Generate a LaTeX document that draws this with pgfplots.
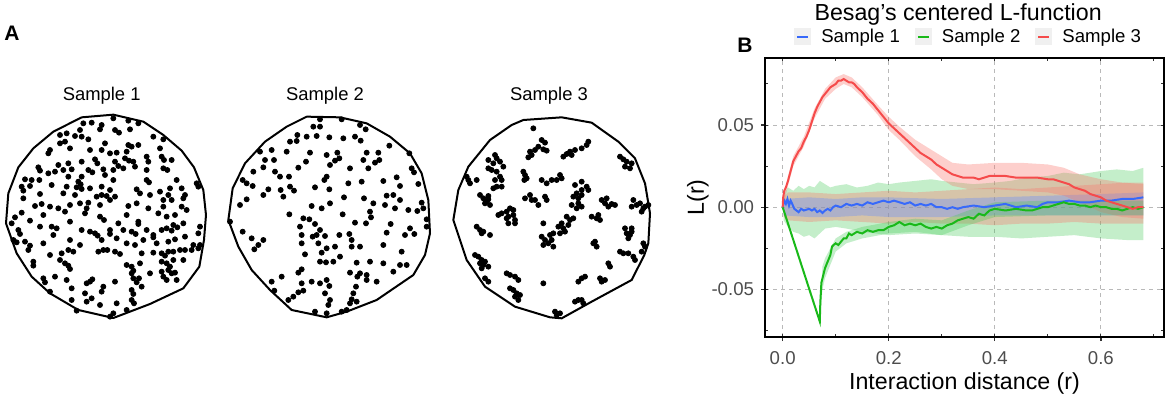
\documentclass[border=0pt]{standalone}
\usepackage{fontspec}
\setmainfont{Liberation Sans}
\usepackage{pgfplots}
\pgfplotsset{compat=1.18}
\definecolor{s1}{RGB}{55,105,250}
\definecolor{s2}{RGB}{25,185,25}
\definecolor{s3}{RGB}{245,75,75}
\definecolor{f1}{RGB}{97,140,255}
\definecolor{f2}{RGB}{60,200,80}
\definecolor{f3}{RGB}{248,118,109}
\definecolor{ticktext}{RGB}{77,77,77}

\pgfplotsset{
  ptpanel/.style={scale only axis, width=110pt, height=125pt,
    xmin=0, xmax=660, ymin=0, ymax=750, y dir=reverse,
    hide axis, clip=false, anchor=north west},
  dots/.style={only marks, mark=*, mark size=1.25pt, black},
  win/.style={black, line width=1pt, no markers},
  band/.style={draw=none, forget plot, fill opacity=#1},
}

\begin{document}
\begin{tikzpicture}

% frame of panel B, drawn first so that no later state can touch it
\draw[black, line width=1.3pt] (382.5pt,-168.5pt) rectangle (582pt,-29pt);

\node[font=\bfseries\fontsize{10.5}{12}\selectfont, inner sep=0pt] at (6pt,-16.5pt) {A};
\node[font=\bfseries\fontsize{10.5}{12}\selectfont, inner sep=0pt] at (372.5pt,-22.5pt) {B};

% ---------- Sample 1 ----------
\begin{axis}[ptpanel, at={(0pt,-40pt)}]
\node[font=\fontsize{9.2}{11}\selectfont] at (axis cs:305,48) {Sample 1};
\addplot[win] coordinates {
(245,112) (340,104) (430,125) (490,165) (545,212) (582,262) (610,330) (618,405)
(612,480) (598,560) (550,625) (450,672) (340,714) (235,690) (150,640) (95,590)
(50,520) (18,430) (25,340) (55,262) (100,205) (160,155) (245,112)};
\addplot[dots] coordinates {
(250,130) (275,128) (305,135) (340,115) (385,122) (415,130)
(240,150) (300,148) (345,150) (357,158) (390,148) (200,160) (180,165)
(225,168) (245,170) (265,178) (195,185) (180,190) (315,190) (385,195) (395,200) (415,195) (460,170) (490,178)
(150,210) (145,220) (210,205) (270,210) (305,210) (330,220) (350,218) (380,215) (375,235) (387,242) (480,205) (485,230) (492,240) (515,240) (440,230) (445,245)
(115,262) (120,272) (175,255) (205,250) (245,245) (285,238) (292,250) (345,245) (355,258) (370,265) (400,245) (405,260) (440,270) (490,265) (502,270)
(145,280) (165,275) (190,270) (215,268) (265,270) (277,277) (310,268) (340,270) (315,285) (205,290) (245,290) (235,305) (242,313) (75,298) (95,300) (118,300) (340,300) (440,300) (447,307) (530,300) (590,310) (595,320)
(65,320) (70,332) (90,318) (155,315) (200,320) (230,322) (245,327) (270,325) (305,320) (330,330) (410,328) (480,335) (510,325) (545,325) (555,345)
(70,355) (120,342) (190,340) (225,345) (290,350) (305,345) (320,348) (345,350) (330,360) (420,340) (450,345) (505,345) (490,360) (515,360) (550,355)
(105,378) (125,372) (150,380) (175,385) (210,375) (240,370) (265,368) (300,375) (260,385) (385,378) (410,370) (445,385) (490,380) (545,380) (560,390)
(45,412) (65,398) (90,422) (130,405) (195,395) (255,400) (300,410) (312,420) (355,430) (380,405) (415,425) (475,400) (500,410) (525,405) (520,435) (532,442) (600,440)
(35,430) (55,450) (60,462) (120,440) (155,440) (170,445) (160,465) (210,425) (245,450) (270,455) (285,460) (293,467) (330,450) (330,462) (370,450) (395,455) (407,462) (415,432) (440,450) (460,465) (485,450) (500,445) (515,452) (550,430) (595,460)
(40,480) (50,487) (75,485) (90,497) (130,490) (210,480) (240,495) (305,480) (350,475) (380,490) (405,495) (430,480) (460,472) (470,490) (505,485) (525,478) (555,470) (580,495) (600,495)
(85,510) (150,525) (185,520) (205,510) (220,515) (295,515) (310,510) (322,510) (345,515) (360,522) (425,520) (460,518) (485,520) (495,527) (505,515) (520,515) (540,510) (555,510) (575,510) (595,505)
(100,545) (100,557) (180,540) (195,550) (205,557) (210,567) (380,555) (395,560) (400,572) (420,550) (485,545) (500,550) (510,560) (520,540) (550,540)
(130,595) (135,607) (165,590) (200,600) (260,610) (270,605) (277,598) (345,605) (395,580) (400,595) (410,607) (417,595) (450,580) (485,575) (490,590) (505,570) (515,580) (525,578) (500,600) (530,600)
(150,635) (215,625) (255,640) (305,635) (310,620) (395,630) (425,620) (400,642) (215,660)
(260,665) (275,655) (300,675) (350,670) (380,690) (395,660) (230,692) (340,700) (330,710) (402,670)
};
\end{axis}

% ---------- Sample 2 ----------
\begin{axis}[ptpanel, at={(110pt,-40pt)}]
\node[font=\fontsize{9.2}{11}\selectfont] at (axis cs:315,48) {Sample 2};
\addplot[win] coordinates {
(260,110) (360,112) (440,130) (510,170) (570,220) (605,280) (625,360) (630,460)
(615,525) (580,585) (470,660) (380,695) (320,712) (215,690) (150,630) (95,570)
(55,500) (25,420) (38,325) (75,250) (135,185) (200,140) (260,110)};
\addplot[dots] coordinates {
(280,140) (300,140) (300,118) (365,118) (420,135) (437,148)
(210,185) (230,183) (232,165) (260,170) (290,168) (328,172) (370,175) (405,170) (422,182) (508,197)
(120,215) (155,210) (200,215) (270,218) (320,225) (352,218) (358,235) (345,242) (440,218) (475,218) (478,240) (465,248) (430,240) (568,220)
(100,275) (130,262) (162,240) (135,240) (165,275) (235,263) (258,245) (330,255) (390,265) (445,265) (575,265) (582,277)
(68,300) (80,310) (98,318) (180,290) (207,290) (210,320) (222,332) (182,330) (145,328) (130,345) (190,350) (320,290) (313,300) (285,322) (328,328) (385,310) (425,305) (490,303) (530,292) (540,318) (595,312)
(60,375) (80,358) (275,378) (305,385) (330,370) (372,352) (432,355) (460,370) (500,347) (520,345) (540,360) (495,375) (565,390) (605,368) (610,385) (592,393)
(30,425) (208,403) (250,415) (268,418) (285,432) (240,440) (300,450) (290,465) (315,468) (368,403) (405,428) (438,430) (450,395) (453,412) (525,385) (512,432) (570,445) (620,418) (620,440)
(68,455) (95,475) (115,495) (130,480) (103,508) (245,465) (245,490) (278,470) (295,490) (305,518) (320,505) (358,465) (388,462) (395,480) (395,500) (345,500) (420,500) (490,495) (500,458) (555,465) (583,462) (545,515)
(255,523) (300,545) (318,547) (340,545) (360,530) (410,548) (450,545) (490,550) (520,575) (540,555) (560,555)
(235,578) (245,568) (185,590) (155,605) (245,610) (275,605) (300,610) (320,600) (328,618) (390,578) (412,590) (420,580) (440,585) (440,600) (470,605) (408,620)
(163,632) (250,632) (235,637) (220,650) (205,660) (315,640) (330,660) (325,675) (400,640) (395,658) (390,670) (410,665) (285,695) (320,700) (365,695) (380,690)
};
\end{axis}

% ---------- Sample 3 ----------
\begin{axis}[ptpanel, at={(217.5pt,-40pt)}]
\node[font=\fontsize{9.2}{11}\selectfont] at (axis cs:342,48) {Sample 3};
\addplot[win] coordinates {
(265,120) (380,112) (470,128) (550,185) (600,235) (630,310) (645,400) (640,490)
(628,525) (590,600) (470,665) (380,715) (345,712) (240,680) (150,620) (95,540)
(55,420) (70,330) (100,260) (165,180) (230,135) (265,120)};
\addplot[dots] coordinates {
(295,145)
(320,180) (330,188) (310,200) (300,210) (285,215) (325,208) (335,212) (290,225) (280,232)
(180,225) (185,235) (160,240) (175,250) (195,245) (160,265) (170,270) (185,275) (195,290) (200,300) (180,300) (185,320) (175,325) (200,320) (205,260)
(95,290) (100,300) (105,310) (125,300)
(265,275) (270,285) (275,295) (268,300)
(385,230) (395,222) (405,215) (410,225) (420,210) (440,205) (455,195) (460,185)
(555,230) (565,238) (575,245) (570,260) (590,250) (585,265)
(320,300) (335,310) (350,300) (365,300) (375,285) (380,295)
(135,345) (145,355) (160,348) (155,365) (165,375) (150,370) (160,358)
(270,355) (285,345) (290,360) (300,360) (310,375) (330,350) (335,360)
(420,315) (440,305) (455,320) (460,330) (440,330) (425,340) (415,350) (430,355) (440,345) (430,370) (440,380) (425,385) (410,375)
(190,405) (200,400) (215,395) (225,385) (235,390) (220,410) (235,405) (240,420) (215,415) (220,430) (240,430)
(500,360) (510,370) (520,380) (530,372) (540,375) (515,355)
(595,360) (605,375) (590,380) (615,370) (625,385) (630,380) (620,395) (640,375)
(125,440) (135,450) (140,460) (145,455) (165,465)
(325,430)
(320,470) (330,480) (325,495) (345,465) (350,480) (355,460) (340,490) (355,500)
(370,440) (380,430) (385,445) (390,455) (375,460) (400,435) (405,420) (415,415) (395,410)
(470,410) (485,415) (495,420) (490,405)
(475,490) (485,500) (480,485)
(570,445) (575,460) (585,465) (590,455) (590,445) (580,475)
(555,515) (565,520) (580,520) (595,530) (600,540) (625,490) (630,500) (620,515)
(120,525) (130,530) (140,540) (150,545) (135,550) (145,555) (160,560) (140,565)
(150,595) (160,605)
(215,580) (225,585) (240,590) (250,600)
(225,625) (235,630) (245,640) (255,645) (240,650) (250,660)
(325,610)
(430,605) (440,595) (450,590)
(495,595) (500,605) (510,600)
(520,550) (525,560)
(420,665) (430,660) (440,660) (445,670)
(360,695) (365,705) (375,700)
};
\end{axis}

% ---------- Panel B ----------
\begin{axis}[
  at={(382.5pt,-168.5pt)}, anchor=south west,
  scale only axis, width=199.5pt, height=139.5pt,
  xmin=-0.0333, xmax=0.719, ymin=-0.079, ymax=0.0908,
  xtick={0,0.2,0.4,0.6}, xticklabels={0.0,0.2,0.4,0.6},
  ytick={-0.05,0,0.05}, yticklabels={-0.05,0.00,0.05},
  scaled ticks=false,
  tick pos=left, tick align=outside, major tick length=2pt,
  tick style={black!80, line width=0.6pt},
  ticklabel style={font=\fontsize{9.3}{11}\selectfont, text=ticktext},
  xticklabel style={yshift=-1.5pt},
  grid=major, major grid style={gray!55, line width=0.5pt, dash pattern=on 2pt off 2pt},
  axis line style={black, line width=1.3pt},
  legend columns=3,
  legend style={at={(axis description cs:0.513,1.0753)}, anchor=center,
    draw=none, fill=none, font=\fontsize{9.3}{11}\selectfont,
    /tikz/every odd column/.append style={column sep=3pt},
    /tikz/every even column/.append style={column sep=5.5pt}},
  legend image code/.code={\fill[black!6] (0pt,-3.75pt) rectangle (7.5pt,3.75pt);
    \draw[#1,line width=1.2pt] (1pt,0pt) -- (6.5pt,0pt);},
]
% envelope of Sample 2 (upper edge, then lower edge backwards)
\addplot[band=0.3, fill=f2] coordinates {
(0.002,0.008) (0.01,0.012) (0.02,0.010) (0.03,0.013) (0.04,0.011) (0.05,0.013) (0.06,0.012) (0.07,0.016) (0.08,0.014) (0.09,0.012) (0.1,0.013) (0.12,0.014) (0.14,0.012) (0.16,0.013) (0.18,0.015) (0.2,0.014) (0.22,0.015) (0.25,0.016) (0.28,0.017) (0.3,0.016) (0.33,0.015) (0.36,0.014) (0.4,0.015) (0.43,0.016) (0.46,0.018) (0.5,0.019) (0.53,0.021) (0.56,0.020) (0.6,0.022) (0.63,0.023) (0.66,0.022) (0.68,0.024)
(0.68,-0.020) (0.65,-0.020) (0.6,-0.019) (0.55,-0.017) (0.5,-0.018) (0.45,-0.019) (0.4,-0.018) (0.35,-0.018) (0.3,-0.017) (0.25,-0.016) (0.2,-0.017) (0.15,-0.015) (0.12,-0.013) (0.1,-0.012) (0.08,-0.013) (0.07,-0.016) (0.06,-0.019) (0.05,-0.017) (0.04,-0.018) (0.03,-0.016) (0.02,-0.015) (0.01,-0.012) (0.002,-0.008)};
% envelope of Sample 3
\addplot[band=0.35, fill=f3] coordinates {
(0.002,0.006) (0.01,0.009) (0.05,0.009) (0.1,0.008) (0.15,0.009) (0.2,0.010) (0.25,0.009) (0.3,0.010) (0.35,0.011) (0.4,0.012) (0.45,0.011) (0.5,0.012) (0.55,0.013) (0.6,0.014) (0.65,0.015) (0.68,0.015)
(0.68,-0.010) (0.65,-0.010) (0.6,-0.010) (0.55,-0.009) (0.5,-0.010) (0.45,-0.010) (0.4,-0.011) (0.35,-0.010) (0.3,-0.010) (0.25,-0.009) (0.2,-0.010) (0.15,-0.009) (0.1,-0.008) (0.05,-0.009) (0.01,-0.008) (0.002,-0.006)};
% envelope of Sample 1
\addplot[band=0.35, fill=f1] coordinates {
(0.002,0.005) (0.05,0.006) (0.1,0.005) (0.15,0.006) (0.2,0.006) (0.3,0.005) (0.4,0.006) (0.5,0.007) (0.6,0.008) (0.68,0.009)
(0.68,-0.005) (0.6,-0.005) (0.5,-0.005) (0.4,-0.005) (0.3,-0.006) (0.2,-0.006) (0.15,-0.005) (0.1,-0.006) (0.05,-0.006) (0.002,-0.005)};
% band round the Sample 3 curve
\addplot[band=0.35, fill=f3] coordinates {
(0,0.002) (0.01,0.019) (0.02,0.031) (0.04,0.043) (0.06,0.060) (0.08,0.072) (0.1,0.079) (0.115,0.081) (0.13,0.079) (0.15,0.073) (0.18,0.062) (0.2,0.055) (0.22,0.049) (0.25,0.041) (0.28,0.035) (0.3,0.031) (0.32,0.027) (0.35,0.026) (0.4,0.027) (0.45,0.027) (0.5,0.026) (0.53,0.024) (0.56,0.020) (0.6,0.017) (0.64,0.015) (0.68,0.014)
(0.68,-0.007) (0.64,-0.006) (0.6,-0.003) (0.56,0.003) (0.53,0.007) (0.5,0.009) (0.45,0.010) (0.4,0.011) (0.35,0.011) (0.32,0.013) (0.3,0.017) (0.28,0.023) (0.25,0.031) (0.22,0.041) (0.2,0.047) (0.18,0.056) (0.15,0.067) (0.13,0.073) (0.115,0.075) (0.1,0.072) (0.08,0.066) (0.06,0.054) (0.04,0.037) (0.02,0.025) (0.01,0.013) (0,-0.002)};
% band round the Sample 2 curve
\addplot[band=0.3, fill=f2] coordinates {
(0.07,-0.068) (0.075,-0.036) (0.08,-0.031) (0.09,-0.025) (0.1,-0.019) (0.12,-0.015) (0.15,-0.012) (0.2,-0.009) (0.25,-0.007) (0.3,-0.008) (0.35,-0.002) (0.4,0.003) (0.5,0.004) (0.6,0.004) (0.68,0.004)
(0.68,-0.005) (0.6,-0.005) (0.5,-0.005) (0.4,-0.006) (0.35,-0.011) (0.3,-0.017) (0.25,-0.015) (0.2,-0.016) (0.15,-0.019) (0.12,-0.022) (0.1,-0.027) (0.09,-0.035) (0.08,-0.043) (0.075,-0.05) (0.07,-0.071)};

% curves
\addplot[s1, line width=1pt, no markers] coordinates {
(0,0) (0.003,0.004) (0.006,0.002) (0.009,0.005) (0.012,0.001) (0.015,0.004) (0.018,0.002) (0.022,-0.001) (0.026,-0.002) (0.03,-0.003) (0.035,-0.001) (0.04,-0.002) (0.045,-0.0015) (0.05,-0.001) (0.055,-0.002) (0.06,-0.001) (0.065,-0.003) (0.07,-0.002) (0.075,-0.0035) (0.08,-0.002) (0.085,-0.001) (0.09,-0.002) (0.095,0.0) (0.1,0.001) (0.11,0.0) (0.12,0.002) (0.13,0.001) (0.14,0.002) (0.15,0.001) (0.16,0.003) (0.17,0.002) (0.18,0.003) (0.19,0.004) (0.2,0.003) (0.21,0.004) (0.22,0.003) (0.23,0.002) (0.24,0.003) (0.25,0.001) (0.26,0.002) (0.27,0.001) (0.28,0.002) (0.29,0.0) (0.3,0.0) (0.31,-0.001) (0.32,0.0) (0.33,-0.001) (0.34,0.0) (0.36,0.001) (0.38,0.0) (0.4,0.001) (0.42,0.002) (0.44,0.0) (0.46,0.001) (0.48,0.0) (0.49,0.002) (0.5,0.003) (0.52,0.003) (0.54,0.004) (0.56,0.003) (0.58,0.003) (0.6,0.004) (0.62,0.004) (0.64,0.005) (0.66,0.005) (0.68,0.006)};
\addlegendentry{Sample 1}
\addplot[s2, line width=1pt, no markers] coordinates {
(0,0) (0.07,-0.0696) (0.071,-0.058) (0.073,-0.046) (0.076,-0.042) (0.08,-0.037) (0.085,-0.033) (0.09,-0.029) (0.093,-0.024) (0.096,-0.023) (0.1,-0.022) (0.105,-0.023) (0.11,-0.021) (0.115,-0.019) (0.12,-0.019) (0.125,-0.016) (0.13,-0.017) (0.14,-0.015) (0.15,-0.016) (0.16,-0.014) (0.17,-0.015) (0.18,-0.014) (0.19,-0.014) (0.2,-0.012) (0.21,-0.011) (0.22,-0.009) (0.23,-0.011) (0.24,-0.010) (0.25,-0.011) (0.26,-0.010) (0.27,-0.012) (0.28,-0.013) (0.29,-0.012) (0.3,-0.013) (0.31,-0.011) (0.32,-0.010) (0.33,-0.008) (0.34,-0.007) (0.35,-0.006) (0.36,-0.007) (0.37,-0.004) (0.38,-0.005) (0.39,-0.002) (0.4,-0.001) (0.42,-0.002) (0.44,-0.001) (0.46,-0.002) (0.47,-0.002) (0.48,-0.001) (0.49,0.0) (0.5,0.0) (0.51,0.001) (0.52,0.002) (0.53,0.003) (0.54,0.002) (0.55,0.002) (0.56,0.001) (0.57,0.001) (0.58,0.0) (0.59,0.001) (0.6,0.0) (0.61,0.0) (0.62,-0.001) (0.63,-0.001) (0.64,-0.002) (0.65,-0.001) (0.66,0.0) (0.67,-0.001) (0.68,0.0)};
\addlegendentry{Sample 2}
\addplot[s3, line width=1pt, no markers] coordinates {
(0,0) (0.001,0.006) (0.003,0.01) (0.006,0.012) (0.01,0.016) (0.015,0.022) (0.02,0.028) (0.025,0.031) (0.03,0.034) (0.035,0.036) (0.04,0.04) (0.045,0.043) (0.05,0.047) (0.055,0.052) (0.06,0.057) (0.065,0.061) (0.07,0.064) (0.075,0.067) (0.08,0.069) (0.085,0.071) (0.09,0.073) (0.095,0.074) (0.1,0.075) (0.105,0.077) (0.11,0.077) (0.115,0.078) (0.12,0.077) (0.125,0.076) (0.13,0.076) (0.135,0.075) (0.14,0.073) (0.15,0.070) (0.16,0.066) (0.17,0.063) (0.18,0.059) (0.19,0.055) (0.2,0.051) (0.21,0.048) (0.22,0.045) (0.23,0.042) (0.24,0.039) (0.25,0.036) (0.26,0.033) (0.27,0.031) (0.28,0.029) (0.29,0.026) (0.3,0.024) (0.31,0.022) (0.32,0.020) (0.33,0.019) (0.34,0.018) (0.35,0.018) (0.36,0.018) (0.37,0.017) (0.38,0.018) (0.39,0.019) (0.4,0.019) (0.42,0.019) (0.44,0.018) (0.46,0.018) (0.48,0.018) (0.5,0.017) (0.51,0.017) (0.52,0.016) (0.53,0.015) (0.54,0.014) (0.55,0.012) (0.56,0.011) (0.57,0.010) (0.58,0.008) (0.59,0.007) (0.6,0.006) (0.61,0.004) (0.62,0.003) (0.63,0.002) (0.64,0.001) (0.65,0.0) (0.66,-0.001) (0.67,0.0) (0.68,0.0)};
\addlegendentry{Sample 3}
\end{axis}

% inner ticks on all four sides, title and axis labels
\begin{axis}[
  at={(382.5pt,-168.5pt)}, anchor=south west,
  scale only axis, width=199.5pt, height=139.5pt,
  xmin=-0.0333, xmax=0.719, ymin=-0.079, ymax=0.0908,
  xtick={0,0.1,...,0.7}, ytick={-0.075,-0.05,...,0.076},
  scaled ticks=false, xticklabels={}, yticklabels={},
  tick pos=both, tick align=inside, major tick length=1.5pt,
  tick style={black!80, line width=0.5pt},
  axis line style={black, line width=1.3pt}, clip=false,
]
\node[font=\fontsize{11.6}{13}\selectfont, inner sep=0pt] at (axis description cs:0.484,1.1577) {Besag's centered L-function};
\node[font=\fontsize{11.6}{13}\selectfont, inner sep=0pt] at (axis description cs:0.5,-0.1649) {Interaction distance (r)};
\node[font=\fontsize{11.6}{13}\selectfont, inner sep=0pt, rotate=90] at (axis description cs:-0.168,0.5) {L(r)};
\end{axis}

\pgfresetboundingbox
\useasboundingbox (0pt,0pt) rectangle (585pt,-200pt);
\end{tikzpicture}
\end{document}
